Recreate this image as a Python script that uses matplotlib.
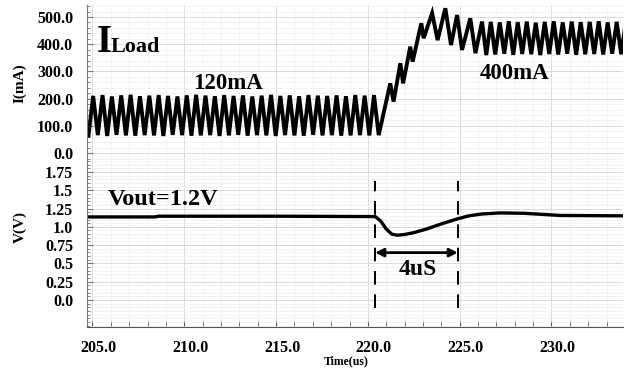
import numpy as np
import matplotlib
matplotlib.use('Agg')
import matplotlib.pyplot as plt
from matplotlib.ticker import MultipleLocator, FormatStrFormatter
from matplotlib.transforms import ScaledTranslation

plt.rcParams['font.family'] = 'Liberation Serif'
plt.rcParams['font.weight'] = 'bold'

# --- I_Load: ripple before the step (120 mA), one peak + trough per cycle ---
period_120 = 0.51   # us
t_start_120 = 204.78
peaks_120 = [210, 213, 208, 212, 214, 209, 211, 213, 210, 208, 212, 214, 211, 209, 213, 210,
             212, 208, 211, 214, 210, 212, 209, 213, 211, 210, 212, 209, 213, 211, 213]
troughs_120 = [64, 66, 63, 67, 65, 64, 66, 65, 63, 67, 66, 64, 65, 66, 63, 65,
               67, 64, 66, 65, 63, 66, 65, 64, 67, 65, 66, 64, 65, 66, 65, 66]

# --- I_Load: ramp + overshoot (vertices) ---
t_ramp = [221.22, 221.40, 221.77, 221.92, 222.31, 222.44, 222.91, 223.04, 223.50, 223.80,
          224.22, 224.53, 224.86, 225.13, 225.58, 225.86, 226.22, 226.45]
i_ramp = [256, 189, 330, 256, 391, 336, 477, 422, 514, 415,
          532, 397, 507, 379, 495, 367, 483, 360]

# --- I_Load: ripple after the step (400 mA) ---
period_400 = 0.49
peaks_400 = [482, 480, 484, 481, 483, 479, 482, 484, 480, 483, 481, 482, 484, 480, 482, 481]
troughs_400 = [362, 365, 361, 364, 363, 360, 364, 362, 365, 361, 363, 364, 362, 365, 363, 362]

# --- Vout ---
t_vout = [204.7, 208.4, 208.6, 215.0, 220.4, 220.7, 221.0, 221.3, 221.6, 222.0, 222.5,
          223.2, 224.0, 224.9, 225.5, 226.2, 227.2, 228.5, 229.5, 230.5, 234.0]
v_vout = [1.135, 1.135, 1.145, 1.145, 1.14, 1.08, 0.97, 0.90, 0.885, 0.895, 0.92,
          0.97, 1.04, 1.11, 1.15, 1.175, 1.19, 1.185, 1.17, 1.155, 1.15]

# build the triangular current trace from the vertex lists
t_i, i_ma = [], []
for k in range(len(peaks_120)):
    t0 = t_start_120 + k * period_120
    t_i += [t0, t0 + period_120 / 2]
    i_ma += [troughs_120[k], peaks_120[k]]
t_i.append(t_start_120 + len(peaks_120) * period_120)
i_ma.append(troughs_120[-1])
t_i += t_ramp
i_ma += i_ramp
t_last = t_ramp[-1]
for k in range(len(peaks_400)):
    t_i += [t_last + (k + 0.5) * period_400, t_last + (k + 1) * period_400]
    i_ma += [peaks_400[k], troughs_400[k]]

fig = plt.figure(figsize=(6.29, 3.69), dpi=100)
ax1 = fig.add_axes([0.1383, 0.5637, 0.8522, 0.4228])
ax2 = fig.add_axes([0.1383, 0.1138, 0.8522, 0.4499], sharex=ax1)

xlim = (204.7, 233.9)

# --- top: load current ---
ax1.plot(t_i, i_ma, color='black', lw=2.8, solid_joinstyle='miter')
ax1.set_ylim(-29, 544)
ax1.set_xlim(*xlim)
ax1.yaxis.set_major_locator(MultipleLocator(100))
ax1.yaxis.set_minor_locator(MultipleLocator(20))
ax1.yaxis.set_major_formatter(FormatStrFormatter('%.1f'))
ax1.set_ylabel('I(mA)', fontsize=11, fontweight='bold')
ax1.yaxis.set_label_coords(-0.112, 0.5)
ax1.text(205.22, 371, 'I', fontsize=28, fontweight='bold', ha='left', va='baseline')
ax1.text(205.97, 371, 'Load', fontsize=16, fontweight='bold', ha='left', va='baseline')
ax1.text(212.4, 254, '120mA', fontsize=16.5, fontweight='bold', ha='center', va='center')
ax1.text(228.0, 294, '400mA', fontsize=16.5, fontweight='bold', ha='center', va='center')

# --- bottom: output voltage ---
ax2.plot(t_vout, v_vout, color='black', lw=2.4)
ax2.set_ylim(-0.37, 1.90)
ax2.set_yticks([0.0, 0.25, 0.5, 0.75, 1.0, 1.25, 1.5, 1.75])
ax2.set_yticklabels(['0.0', '0.25', '0.5', '0.75', '1.0', '1.25', '1.5', '1.75'])
ax2.yaxis.set_minor_locator(MultipleLocator(0.05))
ax2.set_ylabel('V(V)', fontsize=11, fontweight='bold')
ax2.yaxis.set_label_coords(-0.112, 0.60)
ax2.text(208.86, 1.377, 'Vout=1.2V', fontsize=17.5, fontweight='bold', ha='center', va='center')

# 4us recovery markers
t_mark = [220.4, 224.9]
for tm in t_mark:
    ax2.plot([tm, tm], [-0.11, 1.625], color='black', lw=1.4, dashes=(7, 5))
ax2.annotate('', xy=(t_mark[0], 0.647), xytext=(t_mark[1], 0.647),
             arrowprops=dict(arrowstyle='<|-|>', color='black', lw=2,
                             mutation_scale=12, shrinkA=0, shrinkB=0))
ax2.text(222.7, 0.41, '4uS', fontsize=17, fontweight='bold', ha='center', va='center')

ax2.xaxis.set_major_locator(MultipleLocator(5))
ax2.xaxis.set_minor_locator(MultipleLocator(1))
ax2.xaxis.set_major_formatter(FormatStrFormatter('%.1f'))
ax2.set_xlabel('Time(us)', fontsize=8.5, fontweight='bold')
ax2.xaxis.set_label_coords(0.483, -0.172)

for ax in (ax1, ax2):
    ax.grid(which='major', color='#d9d9d9', lw=0.7)
    ax.grid(which='minor', color='#efefef', lw=0.5)
    ax.set_axisbelow(True)
    for s in ('top', 'right'):
        ax.spines[s].set_visible(False)
    ax.spines['left'].set_color('#777777')
    ax.tick_params(axis='y', which='both', direction='in', colors='#777777',
                   labelcolor='black', labelsize=11.5, pad=10)
    ax.tick_params(axis='y', which='major', length=4)
    ax.tick_params(axis='y', which='minor', length=2.5)

ax1.spines['bottom'].set_visible(False)
ax1.tick_params(axis='x', which='both', bottom=False, labelbottom=False)
ax2.spines['bottom'].set_color('#555555')
ax2.tick_params(axis='x', which='both', direction='in', length=4, colors='#555555',
                labelcolor='black', labelsize=11.5, pad=9)
offset = ScaledTranslation(6 / 100, 0, fig.dpi_scale_trans)
for lbl in ax2.get_xticklabels():
    lbl.set_transform(lbl.get_transform() + offset)

fig.savefig('out.png', dpi=100)
